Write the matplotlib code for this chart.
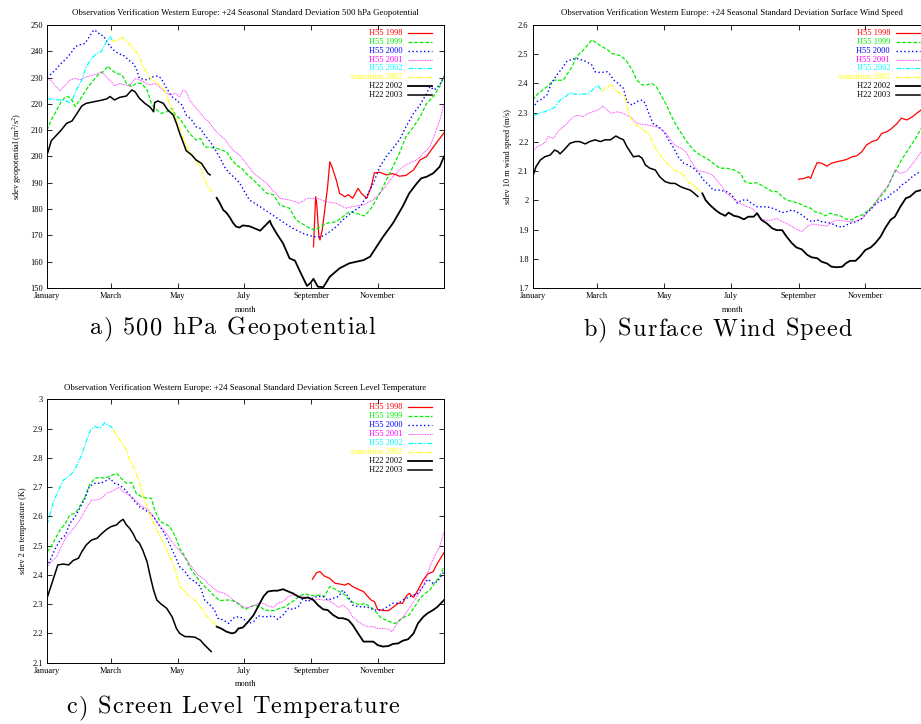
"""Seasonal standard deviation of +24h forecast errors, Western Europe
(500 hPa geopotential, 10 m wind, 2 m temperature) for several model cycles."""
import matplotlib
matplotlib.use("Agg")
import matplotlib.pyplot as plt
from matplotlib.ticker import FuncFormatter

plt.rcParams["font.family"] = ["Liberation Serif", "DejaVu Serif"]
plt.rcParams["mathtext.fontset"] = "stix"

MONTH_DAYS = [0, 59, 120, 181, 243, 304]
MONTH_LABELS = ["January", "March", "May", "July", "September", "November"]
SERIES = ["H55 1998", "H55 1999", "H55 2000", "H55 2001", "H55 2002",
          "transition 2002", "H22 2002", "H22 2003"]

# ---------------- a) 500 hPa geopotential (m2/s2) ----------------
geo_d98 = [245, 247, 248, 250, 251, 253, 255, 258, 260, 262, 266, 269, 274, 277, 281,
           286, 289, 294, 298, 301, 306, 312, 318, 324, 330, 337, 343, 349, 355, 365]
geo_v98 = [165.7, 184.7, 182, 169.5, 168.3, 172, 178.4, 188.5, 198, 196.1, 191, 186,
           184.7, 185.5, 184.1, 187.9, 186, 184.1, 188.5, 193.8, 194, 193, 193.5, 192.5,
           192.8, 194.9, 198.7, 200, 203.5, 209]
geo_d99 = [0, 4, 9, 13, 17, 20, 23, 26, 29, 33, 38, 43, 47, 52, 56, 59, 64, 69, 73, 78,
           82, 87, 92, 96, 101, 105, 110, 115, 118, 122, 127, 131, 137, 141, 145, 151,
           156, 160, 165, 170, 174, 179, 183, 190, 196, 202, 208, 214, 223, 229, 239,
           246, 257, 266, 272, 278, 284, 292, 298, 306, 312, 318, 324, 330, 337, 343,
           349, 355, 361, 365]
geo_v99 = [210, 213.9, 217.7, 220.8, 222.7, 222.7, 221.5, 219, 220.8, 223.4, 226.6,
           229.1, 231, 232.3, 234.4, 232.9, 231.6, 231, 227.8, 226.6, 227.8, 227.8,
           225.3, 220.2, 217.7, 216.4, 217, 218.3, 215.8, 214.5, 211.3, 208.8, 206.3,
           206.9, 203.7, 203.4, 203.1, 202.5, 201.8, 198.7, 196.8, 195.5, 193.6, 191,
           188.5, 186, 185.5, 181.6, 180.3, 175.9, 173.3, 172, 174.6, 175.2, 177.1, 179,
           178.4, 177.4, 180.3, 186, 191, 196.1, 201.2, 207.5, 211.3, 215.1, 220.2,
           222.7, 226.6, 230.4]
geo_d00 = [0, 4, 9, 13, 18, 23, 26, 30, 35, 39, 43, 46, 49, 52, 56, 61, 66, 70, 75, 79,
           82, 85, 92, 98, 102, 105, 110, 115, 119, 124, 128, 133, 137, 141, 145, 150,
           154, 159, 164, 168, 173, 177, 186, 196, 205, 214, 226, 235, 245, 252, 258,
           266, 272, 281, 288, 294, 300, 306, 312, 318, 324, 330, 337, 343, 349, 352,
           356, 361, 365]
geo_v00 = [230.1, 231.4, 233.5, 235.4, 237.3, 239.9, 241.8, 242.4, 243, 245.6, 248.1,
           247.5, 246.2, 245.9, 243, 240.5, 239, 238.6, 236.7, 235.4, 233.5, 229.7,
           229.1, 230.4, 230.6, 229.7, 225.9, 222.7, 221.5, 219.6, 215.8, 213.9, 211.3,
           210.7, 208.2, 205.6, 203.1, 199.5, 195.5, 193.6, 191.7, 190, 183.5, 180.9,
           178.4, 175.9, 172.7, 170.8, 169.5, 169.5, 170.8, 173.3, 175.9, 179, 180.9,
           185, 189.8, 196.1, 200, 203.1, 206.3, 211.3, 216.4, 219.6, 224, 226.6, 225.3,
           227.2, 230.4]
geo_d01 = [0, 4, 7, 12, 17, 21, 26, 30, 35, 39, 46, 50, 55, 59, 62, 67, 72, 76, 81, 85,
           90, 95, 99, 104, 108, 113, 118, 122, 125, 128, 131, 136, 141, 145, 150, 154,
           159, 164, 168, 171, 177, 190, 202, 214, 223, 232, 239, 248, 257, 266, 275,
           281, 291, 300, 309, 318, 327, 333, 340, 346, 352, 358, 362, 365]
geo_v01 = [229.3, 229, 227.2, 225, 227.2, 229.1, 229.7, 229.1, 230.1, 230.6, 231.4,
           232.3, 230.1, 228.5, 226.8, 227.8, 227.2, 226.8, 229.7, 229.1, 228.1, 227.2,
           227.8, 226.3, 224.7, 223.4, 224, 222.7, 225.3, 224.7, 221.5, 219, 216.4,
           214.5, 212.6, 210.1, 208.2, 206.3, 203.9, 202.5, 200.6, 193.6, 189.8, 184.1,
           183.5, 182.2, 184.1, 184.1, 182.8, 182.2, 180.3, 181, 181.6, 183.5, 187.3,
           192.3, 196.1, 197.4, 198.7, 201.2, 203.7, 210.1, 215, 220.2]
geo_d02 = [0, 6, 10, 15, 21, 24, 27, 32, 36, 41, 46, 50, 53, 58, 60]
geo_v02 = [222, 221.7, 221.5, 221.5, 220.5, 222.1, 225.3, 229, 234, 237.3, 239.2, 239.9,
           242.4, 245.6, 244.3]
geo_dtr = [60, 62, 69, 75, 82, 85, 88, 95, 102, 108, 111, 115, 119, 125, 130, 134, 141,
           144, 148, 153]
geo_vtr = [244.3, 243.7, 245.3, 243, 239.9, 238, 234.2, 229.7, 227.8, 225.3, 222,
           217.7, 213.9, 207.5, 202.5, 200, 196.1, 192.3, 188.5, 186]
geo_d22a = [156, 159, 162, 165, 168, 171, 174, 177, 180, 186, 196, 202, 205, 206, 211,
            217, 223, 228, 232, 239, 242, 245, 249, 254, 260, 269, 278, 291, 297, 303,
            309, 318, 327, 333, 340, 344, 349, 355, 361, 365]
geo_v22a = [184.3, 182.2, 179.7, 178.6, 176.9, 174.8, 173.3, 173, 173.8, 173.5, 171.8,
            174.3, 175.6, 174.3, 170.8, 167, 161.3, 160.4, 156.8, 150.8, 151.8, 153.5,
            150.5, 150.3, 154.3, 157.5, 159.4, 160.6, 161.9, 165.7, 169.5, 174.6, 181,
            186, 189.8, 191.7, 192.3, 193.6, 196.1, 200]
geo_d22b = [0, 4, 9, 13, 18, 23, 27, 32, 36, 43, 49, 55, 58, 62, 67, 73, 78, 81, 85, 90,
            95, 98, 99, 102, 107, 111, 116, 119, 122, 125, 128, 133, 137, 142, 145, 148,
            150]
geo_v22b = [200.5, 206, 208.2, 210, 212.6, 213.5, 216, 219.2, 220.2, 220.8, 221.3,
            221.9, 222.8, 221.5, 222.5, 223, 225.3, 224.6, 222.1, 220.2, 218.7, 217,
            220.5, 221.1, 220.2, 217.7, 215.8, 212.6, 208.8, 205.6, 202.2, 200.6, 198.7,
            197.4, 195.5, 193.6, 193]

# ---------------- b) 10 m wind speed (m/s) ----------------
wnd_d98 = [243, 248, 252, 254, 257, 260, 264, 269, 273, 278, 283, 287, 292, 296, 301,
           305, 310, 315, 319, 324, 328, 333, 337, 342, 347, 351, 355]
wnd_v98 = [2.072, 2.075, 2.081, 2.075, 2.104, 2.129, 2.127, 2.117, 2.127, 2.132, 2.136,
           2.14, 2.149, 2.152, 2.167, 2.189, 2.201, 2.207, 2.229, 2.235, 2.246, 2.263,
           2.281, 2.275, 2.286, 2.298, 2.309]
wnd_d99 = [0, 5, 10, 14, 19, 28, 31, 36, 40, 45, 49, 54, 59, 63, 68, 72, 81, 86, 91, 95,
           100, 104, 109, 113, 118, 123, 127, 132, 136, 141, 147, 153, 159, 165, 171,
           177, 184, 190, 194, 199, 205, 209, 214, 219, 223, 228, 232, 238, 243, 248,
           254, 258, 263, 267, 272, 277, 281, 287, 292, 296, 301, 305, 310, 315, 319,
           324, 328, 333, 337, 342, 347, 351, 355]
wnd_v99 = [2.343, 2.366, 2.38, 2.391, 2.411, 2.411, 2.429, 2.457, 2.492, 2.509, 2.526,
           2.549, 2.537, 2.526, 2.517, 2.503, 2.494, 2.475, 2.446, 2.412, 2.395, 2.395,
           2.4, 2.389, 2.355, 2.32, 2.286, 2.252, 2.229, 2.2, 2.172, 2.155, 2.144, 2.127,
           2.11, 2.11, 2.104, 2.092, 2.064, 2.058, 2.06, 2.052, 2.041, 2.03, 2.03, 2.013,
           2.001, 1.995, 1.99, 1.981, 1.973, 1.961, 1.956, 1.947, 1.956, 1.95, 1.947,
           1.935, 1.933, 1.944, 1.95, 1.961, 1.978, 2.001, 2.018, 2.041, 2.075, 2.109,
           2.138, 2.167, 2.195, 2.218, 2.246]
wnd_d00 = [0, 4, 8, 13, 17, 22, 27, 31, 36, 40, 45, 49, 54, 57, 62, 68, 71, 74, 78, 83,
           86, 91, 95, 100, 103, 106, 110, 115, 120, 124, 129, 133, 138, 142, 147, 152,
           156, 161, 165, 171, 177, 182, 187, 191, 196, 200, 205, 211, 217, 223, 228,
           232, 237, 241, 246, 251, 255, 260, 264, 269, 273, 278, 283, 287, 292, 296,
           301, 305, 310, 315, 319, 324, 328, 333, 337, 342, 347, 351, 355]
wnd_v00 = [2.315, 2.338, 2.346, 2.36, 2.4, 2.429, 2.452, 2.475, 2.483, 2.486, 2.48,
           2.475, 2.463, 2.44, 2.437, 2.44, 2.429, 2.412, 2.4, 2.383, 2.338, 2.326, 2.338,
           2.343, 2.332, 2.298, 2.263, 2.252, 2.235, 2.207, 2.178, 2.149, 2.127, 2.121,
           2.11, 2.092, 2.07, 2.052, 2.035, 2.035, 2.03, 2.018, 1.99, 2.001, 2.001, 1.99,
           1.978, 1.978, 1.976, 1.967, 1.958, 1.961, 1.967, 1.961, 1.95, 1.935, 1.927,
           1.933, 1.927, 1.924, 1.921, 1.912, 1.908, 1.916, 1.924, 1.927, 1.938, 1.956,
           1.973, 1.992, 2.001, 2.007, 2.024, 2.035, 2.052, 2.064, 2.081, 2.092, 2.098]
wnd_d01 = [0, 4, 8, 12, 14, 19, 23, 28, 33, 37, 42, 46, 51, 55, 60, 64, 68, 72, 77, 81,
           86, 91, 95, 104, 113, 118, 123, 127, 132, 136, 141, 145, 150, 155, 159, 164,
           168, 173, 177, 182, 187, 191, 196, 200, 205, 209, 214, 219, 223, 228, 232,
           237, 241, 246, 251, 255, 260, 269, 273, 278, 283, 292, 296, 301, 305, 310,
           315, 319, 324, 328, 331, 336, 341, 345, 350, 355]
wnd_v01 = [2.167, 2.184, 2.19, 2.201, 2.218, 2.212, 2.235, 2.252, 2.269, 2.286, 2.292,
           2.286, 2.298, 2.303, 2.309, 2.323, 2.309, 2.298, 2.303, 2.3, 2.292, 2.281,
           2.263, 2.258, 2.252, 2.241, 2.224, 2.201, 2.184, 2.178, 2.161, 2.132, 2.104,
           2.098, 2.095, 2.087, 2.07, 2.047, 2.024, 2.01, 1.995, 1.987, 1.978, 1.973,
           1.956, 1.938, 1.93, 1.933, 1.938, 1.927, 1.921, 1.91, 1.901, 1.893, 1.91,
           1.919, 1.916, 1.912, 1.924, 1.933, 1.93, 1.927, 1.93, 1.938, 1.956, 1.973,
           2.001, 2.024, 2.047, 2.075, 2.104, 2.092, 2.098, 2.115, 2.138, 2.167]
wnd_d02 = [0, 2, 7, 11, 16, 20, 25, 30, 34, 39, 43, 48, 52, 57, 60, 63]
wnd_v02 = [2.258, 2.292, 2.3, 2.303, 2.311, 2.318, 2.343, 2.355, 2.368, 2.363, 2.363,
           2.364, 2.368, 2.387, 2.391, 2.375]
wnd_dtr = [63, 68, 72, 75, 80, 84, 87, 92, 97, 101, 106, 110, 115, 120, 124, 129, 133,
           138, 142, 147, 152, 155]
wnd_vtr = [2.375, 2.387, 2.395, 2.38, 2.364, 2.355, 2.309, 2.263, 2.252, 2.241, 2.229,
           2.195, 2.161, 2.138, 2.121, 2.104, 2.098, 2.087, 2.064, 2.052, 2.035, 2.024]
wnd_d22a = [155, 158, 162, 167, 171, 176, 179, 184, 188, 193, 197, 202, 205, 209, 214,
            219, 223, 228, 232, 237, 241, 246, 251, 255, 260, 264, 269, 273, 278, 283,
            286, 290, 295, 299, 304, 309, 313, 318, 322, 327, 331, 336, 341, 345, 350,
            355]
wnd_v22a = [2.024, 2.001, 1.984, 1.967, 1.956, 1.947, 1.958, 1.947, 1.944, 1.935, 1.944,
            1.944, 1.956, 1.933, 1.921, 1.904, 1.898, 1.898, 1.876, 1.853, 1.839, 1.832,
            1.813, 1.805, 1.802, 1.79, 1.784, 1.773, 1.771, 1.773, 1.784, 1.793, 1.793,
            1.807, 1.83, 1.839, 1.853, 1.876, 1.904, 1.933, 1.944, 1.978, 2.007, 2.013,
            2.03, 2.035]
wnd_d22b = [0, 3, 7, 11, 16, 20, 23, 25, 30, 34, 39, 43, 48, 52, 57, 62, 66, 71, 76, 80,
            83, 86, 89, 92, 97, 100, 103, 107, 112, 116, 121, 126, 130, 135, 139, 144,
            147, 151]
wnd_v22b = [2.081, 2.115, 2.138, 2.149, 2.155, 2.172, 2.167, 2.159, 2.178, 2.195, 2.201,
            2.201, 2.193, 2.201, 2.207, 2.201, 2.207, 2.207, 2.22, 2.212, 2.207, 2.184,
            2.167, 2.149, 2.152, 2.144, 2.121, 2.11, 2.104, 2.081, 2.064, 2.058, 2.058,
            2.047, 2.041, 2.035, 2.026, 2.013]

# ---------------- c) 2 m temperature (K) ----------------
t2m_d98 = [244, 248, 251, 255, 260, 265, 269, 274, 277, 281, 286, 291, 295, 298, 301,
           304, 309, 314, 318, 323, 327, 330, 333, 337, 341, 346, 350, 355, 359, 365]
t2m_v98 = [2.385, 2.408, 2.411, 2.396, 2.388, 2.371, 2.369, 2.365, 2.371, 2.36, 2.351,
           2.343, 2.326, 2.314, 2.309, 2.282, 2.278, 2.278, 2.289, 2.303, 2.303, 2.326,
           2.337, 2.323, 2.348, 2.383, 2.403, 2.411, 2.44, 2.476]
t2m_d99 = [0, 3, 7, 12, 17, 21, 26, 30, 35, 39, 44, 49, 53, 58, 64, 69, 73, 78, 82, 87,
           92, 96, 99, 104, 108, 113, 118, 122, 127, 131, 136, 141, 145, 150, 154, 159,
           164, 168, 173, 177, 182, 186, 191, 196, 200, 205, 209, 214, 219, 223, 228,
           232, 237, 242, 246, 251, 255, 260, 265, 269, 274, 278, 283, 288, 292, 297,
           301, 306, 310, 315, 320, 324, 329, 333, 338, 343, 347, 352, 356, 361, 365]
t2m_v99 = [2.479, 2.491, 2.519, 2.553, 2.576, 2.605, 2.61, 2.633, 2.667, 2.707, 2.73,
           2.733, 2.73, 2.738, 2.747, 2.727, 2.713, 2.715, 2.679, 2.667, 2.662, 2.662,
           2.622, 2.582, 2.576, 2.565, 2.531, 2.491, 2.462, 2.428, 2.4, 2.377, 2.36,
           2.343, 2.326, 2.312, 2.314, 2.314, 2.309, 2.297, 2.282, 2.289, 2.297, 2.291,
           2.28, 2.278, 2.278, 2.286, 2.291, 2.303, 2.314, 2.328, 2.335, 2.331, 2.328,
           2.331, 2.326, 2.36, 2.351, 2.343, 2.331, 2.314, 2.303, 2.297, 2.303, 2.291,
           2.28, 2.257, 2.248, 2.24, 2.234, 2.244, 2.257, 2.263, 2.291, 2.32, 2.335,
           2.348, 2.371, 2.394, 2.428]
t2m_d00 = [0, 3, 7, 12, 17, 21, 26, 30, 35, 39, 44, 49, 53, 58, 62, 67, 72, 76, 81, 85,
           90, 95, 99, 104, 108, 113, 118, 122, 127, 131, 136, 141, 145, 150, 154, 157,
           162, 167, 171, 176, 180, 185, 190, 194, 199, 203, 208, 212, 217, 222, 226,
           231, 235, 240, 245, 249, 254, 258, 263, 268, 272, 277, 281, 286, 291, 295,
           300, 304, 309, 314, 318, 323, 327, 332, 337, 341, 346, 350, 355, 359, 365]
t2m_v00 = [2.428, 2.451, 2.485, 2.519, 2.536, 2.576, 2.599, 2.627, 2.662, 2.702, 2.713,
           2.713, 2.719, 2.73, 2.713, 2.707, 2.69, 2.673, 2.65, 2.633, 2.622, 2.61, 2.593,
           2.565, 2.542, 2.502, 2.462, 2.428, 2.411, 2.388, 2.377, 2.36, 2.314, 2.297,
           2.28, 2.252, 2.246, 2.234, 2.252, 2.257, 2.252, 2.234, 2.24, 2.26, 2.257,
           2.257, 2.26, 2.248, 2.263, 2.286, 2.282, 2.291, 2.317, 2.309, 2.323, 2.326,
           2.326, 2.314, 2.32, 2.326, 2.348, 2.326, 2.297, 2.291, 2.291, 2.289, 2.282,
           2.278, 2.282, 2.294, 2.303, 2.303, 2.314, 2.323, 2.331, 2.337, 2.362, 2.385,
           2.371, 2.377, 2.411]
t2m_d01 = [0, 4, 9, 13, 18, 23, 27, 32, 36, 41, 46, 50, 55, 59, 66, 70, 75, 79, 84, 88,
           93, 98, 102, 107, 111, 116, 121, 125, 130, 134, 139, 144, 148, 153, 157, 162,
           167, 171, 176, 180, 185, 190, 194, 199, 203, 208, 212, 217, 222, 226, 231,
           235, 240, 245, 249, 254, 258, 263, 268, 272, 277, 281, 286, 291, 295, 300,
           304, 309, 314, 317, 320, 324, 329, 333, 338, 343, 347, 352, 356, 361, 365]
t2m_v01 = [2.428, 2.445, 2.462, 2.496, 2.531, 2.553, 2.571, 2.599, 2.627, 2.656, 2.656,
           2.662, 2.679, 2.684, 2.699, 2.684, 2.673, 2.662, 2.645, 2.633, 2.622, 2.599,
           2.576, 2.553, 2.536, 2.508, 2.485, 2.468, 2.445, 2.422, 2.4, 2.385, 2.371,
           2.354, 2.343, 2.339, 2.328, 2.314, 2.303, 2.291, 2.289, 2.294, 2.303, 2.303,
           2.294, 2.289, 2.303, 2.309, 2.326, 2.331, 2.328, 2.326, 2.32, 2.312, 2.317,
           2.314, 2.314, 2.303, 2.289, 2.297, 2.282, 2.257, 2.24, 2.229, 2.223, 2.223,
           2.217, 2.217, 2.214, 2.206, 2.223, 2.246, 2.263, 2.286, 2.314, 2.343, 2.371,
           2.428, 2.462, 2.496, 2.548]
t2m_d02 = [0, 3, 6, 10, 15, 20, 23, 27, 32, 36, 40, 44, 49, 53, 56, 59, 61]
t2m_v02 = [2.571, 2.61, 2.65, 2.684, 2.724, 2.736, 2.747, 2.77, 2.81, 2.855, 2.895,
           2.907, 2.901, 2.92, 2.912, 2.907, 2.895]
t2m_dtr = [61, 64, 69, 73, 76, 81, 85, 90, 95, 99, 104, 108, 113, 118, 122, 127, 131,
           136, 141, 145, 150, 155]
t2m_vtr = [2.895, 2.878, 2.85, 2.827, 2.793, 2.758, 2.713, 2.656, 2.599, 2.571, 2.531,
           2.502, 2.462, 2.417, 2.36, 2.343, 2.326, 2.314, 2.291, 2.269, 2.246, 2.229]
t2m_d22a = [156, 160, 165, 170, 173, 176, 180, 185, 190, 194, 199, 203, 208, 212, 217,
            222, 226, 231, 235, 240, 245, 249, 254, 258, 263, 268, 272, 277, 281, 286,
            291, 295, 300, 304, 309, 314, 318, 323, 327, 332, 337, 341, 346, 350, 355,
            359, 365]
t2m_v22a = [2.223, 2.217, 2.206, 2.2, 2.203, 2.217, 2.22, 2.24, 2.263, 2.291, 2.326,
            2.343, 2.346, 2.346, 2.351, 2.343, 2.337, 2.326, 2.32, 2.323, 2.314, 2.297,
            2.282, 2.28, 2.263, 2.252, 2.252, 2.246, 2.229, 2.2, 2.172, 2.172, 2.172,
            2.16, 2.155, 2.157, 2.164, 2.166, 2.175, 2.18, 2.2, 2.234, 2.257, 2.269,
            2.28, 2.291, 2.314]
t2m_d22b = [0, 3, 6, 10, 15, 20, 24, 29, 32, 36, 41, 46, 50, 55, 59, 64, 67, 70, 73, 76,
            79, 82, 85, 88, 92, 95, 98, 101, 105, 110, 115, 119, 122, 127, 131, 136, 141,
            145, 148, 151]
t2m_v22b = [2.32, 2.354, 2.388, 2.434, 2.437, 2.434, 2.449, 2.457, 2.479, 2.502, 2.519,
            2.525, 2.54, 2.556, 2.565, 2.571, 2.582, 2.59, 2.571, 2.559, 2.542, 2.519,
            2.508, 2.485, 2.445, 2.394, 2.348, 2.314, 2.3, 2.286, 2.257, 2.217, 2.2,
            2.189, 2.189, 2.187, 2.177, 2.16, 2.149, 2.138]

STYLE = {
    "H55 1998": dict(color="#ff0000", ls="-", lw=0.9),
    "H55 1999": dict(color="#00ee00", ls=(0, (3, 1.5)), lw=0.9),
    "H55 2000": dict(color="#0000ff", ls=(0, (1, 1.8)), lw=1.0),
    "H55 2001": dict(color="#ff00ff", ls=(0, (1, 1)), lw=0.6),
    "H55 2002": dict(color="#00ffff", ls=(0, (4, 1.2, 1, 1.2)), lw=0.9),
    "transition 2002": dict(color="#ffff00", ls=(0, (3, 1, 1, 1, 1, 1)), lw=0.9),
    "H22 2002": dict(color="#000000", ls="-", lw=1.3),
    "H22 2003": dict(color="#000000", ls="-", lw=1.1),
}

PANELS = [
    dict(rect=[0.0510, 0.6022, 0.4311, 0.3633],
         title="Observation Verification Western Europe: +24 Seasonal Standard "
               "Deviation 500 hPa Geopotential",
         ylabel="sdev geopotential (m$^{2}$/s$^{2}$)",
         ylim=(150, 250), yticks=list(range(150, 251, 10)),
         data=[(geo_d98, geo_v98), (geo_d99, geo_v99), (geo_d00, geo_v00),
               (geo_d01, geo_v01), (geo_d02, geo_v02), (geo_dtr, geo_vtr),
               (geo_d22a, geo_v22a), (geo_d22b, geo_v22b)],
         caption="a) 500 hPa Geopotential", cap=(232.5, 334.5, 285)),
    dict(rect=[0.5784, 0.6022, 0.4336, 0.3633],
         title="Observation Verification Western Europe: +24 Seasonal Standard "
               "Deviation Surface Wind Speed",
         ylabel="sdev 10 m wind speed (m/s)",
         ylim=(1.7, 2.6), yticks=[round(1.7 + 0.1 * i, 1) for i in range(10)],
         data=[(wnd_d98, wnd_v98), (wnd_d99, wnd_v99), (wnd_d00, wnd_v00),
               (wnd_d01, wnd_v01), (wnd_d02, wnd_v02), (wnd_dtr, wnd_vtr),
               (wnd_d22a, wnd_v22a), (wnd_d22b, wnd_v22b)],
         caption="b) Surface Wind Speed", cap=(717.5, 335.5, 268)),
    dict(rect=[0.0510, 0.0847, 0.4311, 0.3638],
         title="Observation Verification Western Europe: +24 Seasonal Standard "
               "Deviation Screen Level Temperature",
         ylabel="sdev 2 m temperature (K)",
         ylim=(2.1, 3.0), yticks=[round(2.1 + 0.1 * i, 1) for i in range(10)],
         data=[(t2m_d98, t2m_v98), (t2m_d99, t2m_v99), (t2m_d00, t2m_v00),
               (t2m_d01, t2m_v01), (t2m_d02, t2m_v02), (t2m_dtr, t2m_vtr),
               (t2m_d22a, t2m_v22a), (t2m_d22b, t2m_v22b)],
         caption="c) Screen Level Temperature", cap=(233, 713, 333)),
]

W, H = 921, 724
fig = plt.figure(figsize=(W / 100, H / 100), dpi=100)
renderer = fig.canvas.get_renderer()
CAP_FONT = dict(family="cmr10", fontsize=17.5)


def text_width(s):
    # advance of s, measured with a trailing bar so end spaces count
    t = fig.text(0, 0, s + "|", **CAP_FONT)
    w = t.get_window_extent(renderer).width
    t.remove()
    return w


def spaced_caption(s, xc, ybase, width):
    """Letter-spaced LaTeX-style caption, centred at xc (px), baseline ybase (px from top)."""
    bar = text_width("")
    offs = [text_width(s[:i]) - bar for i in range(len(s))]
    natural = text_width(s) - bar
    track = (width - natural) / (len(s) - 1)
    x0 = xc - width / 2
    for i, ch in enumerate(s):
        if ch == " ":
            continue
        fig.text((x0 + offs[i] + i * track) / W, 1 - ybase / H, ch,
                 ha="left", va="baseline", **CAP_FONT)


for p in PANELS:
    ax = fig.add_axes(p["rect"])
    for name, (d, v) in zip(SERIES, p["data"]):
        ax.plot(d, v, **STYLE[name])
    ax.set_xlim(0, 365)
    ax.set_ylim(*p["ylim"])
    ax.set_xticks(MONTH_DAYS, MONTH_LABELS)
    ax.set_yticks(p["yticks"])
    ax.yaxis.set_major_formatter(FuncFormatter(lambda y, _: f"{y:g}"))
    ax.tick_params(direction="in", top=True, right=True, length=3.3, width=0.6,
                   labelsize=6, pad=3)
    for s in ax.spines.values():
        s.set_linewidth(0.7)
    ax.set_title(p["title"], fontsize=6.3, pad=7)
    ax.set_xlabel("month", fontsize=6, labelpad=4)
    ax.set_ylabel(p["ylabel"], fontsize=6, labelpad=4)
    # gnuplot-style key: right-aligned labels with the line sample after them
    for i, name in enumerate(SERIES):
        y = 0.970 - i * 0.0338
        st = STYLE[name]
        ax.text(0.895, y, name, transform=ax.transAxes, ha="right", va="center",
                fontsize=6, color=st["color"])
        ax.plot([0.91, 0.97], [y, y], transform=ax.transAxes, **st)
    spaced_caption(p["caption"], *p["cap"])

fig.savefig("out.png", dpi=100)
